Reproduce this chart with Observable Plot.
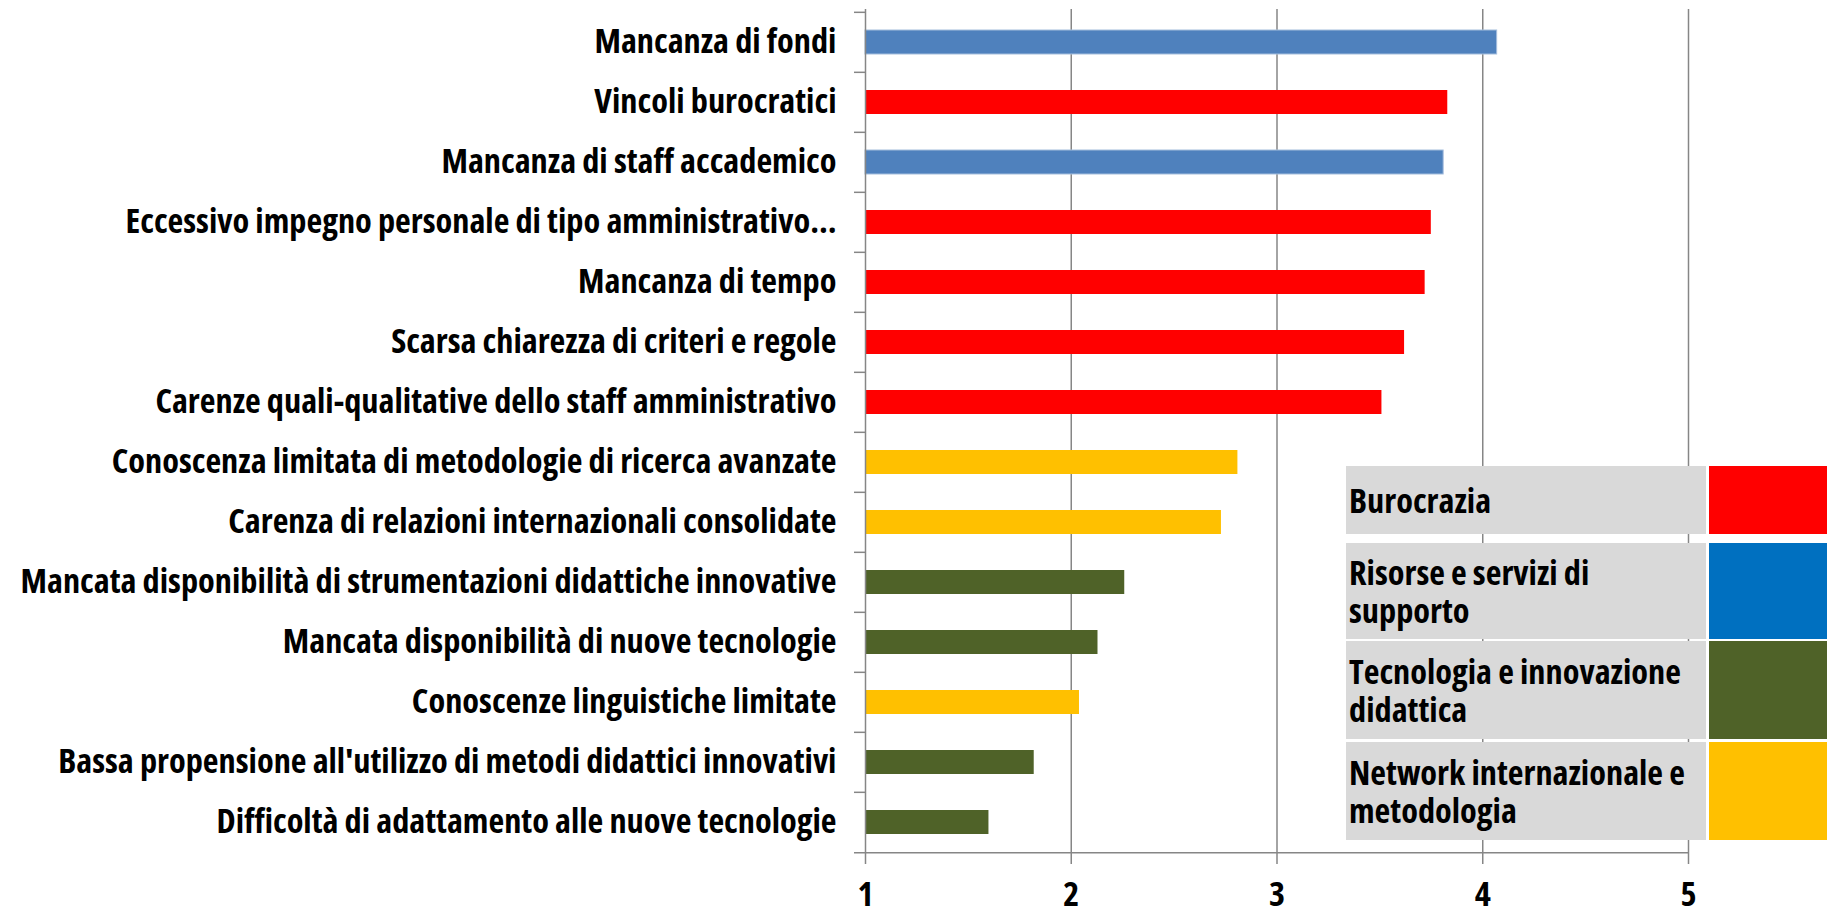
<!DOCTYPE html>
<html><head><meta charset="utf-8">
<script src="https://cdn.jsdelivr.net/npm/d3@7"></script>
<script src="https://cdn.jsdelivr.net/npm/@observablehq/plot@0.6"></script>
<style>
body{margin:0;background:#fff;}
#wrap{position:relative;width:1830px;height:907px;overflow:hidden;font-family:"Open Sans",Roboto,sans-serif;font-weight:bold;font-stretch:75%;}
.lg{position:absolute;display:flex;}
.lg .t{background:#D9D9D9;display:flex;align-items:center;box-sizing:border-box;padding-left:3px;color:#000;white-space:nowrap;}
.lg .s{position:absolute;}
</style></head><body><div id="wrap"></div>
<script>
const labels = [
  "Mancanza di fondi",
  "Vincoli burocratici",
  "Mancanza di staff accademico",
  "Eccessivo impegno personale di tipo amministrativo…",
  "Mancanza di tempo",
  "Scarsa chiarezza di criteri e regole",
  "Carenze quali-qualitative dello staff amministrativo",
  "Conoscenza limitata di metodologie di ricerca avanzate",
  "Carenza di relazioni internazionali consolidate",
  "Mancata disponibilità di strumentazioni didattiche innovative",
  "Mancata disponibilità di nuove tecnologie",
  "Conoscenze linguistiche limitate",
  "Bassa propensione all'utilizzo di metodi didattici innovativi",
  "Difficoltà di adattamento alle nuove tecnologie"
];
const values = [4.07, 3.83, 3.81, 3.75, 3.72, 3.62, 3.51, 2.81, 2.73, 2.26, 2.13, 2.04, 1.82, 1.60];
// group index: 0 Burocrazia, 1 Risorse, 2 Tecnologia, 3 Network
const groups = [1, 0, 1, 0, 0, 0, 0, 3, 3, 2, 2, 3, 2, 2];
const groupNames = ["Burocrazia", "Risorse e servizi di\nsupporto", "Tecnologia e innovazione\ndidattica", "Network internazionale e\nmetodologia"];
const barColors = ["#FF0000", "#4F81BD", "#4F6228", "#FFC000"];
const legendColors = ["#FF0000", "#0070C0", "#4F6228", "#FFC000"];
const xTicks = [1, 2, 3, 4, 5];
const gridTicks = [2, 3, 4, 5];

const data = labels.map((l, i) => ({label: l, value: values[i], g: groups[i]}));

const fs = 34.3;
const W = 1830, H = 907, mT = 9, mB = 53, mL = 865, mR = 142;
const step = (H - mT - mB) / labels.length;
const font = "'Open Sans', Roboto, sans-serif";
const gray = "#868686";

const chart = Plot.plot({
  width: W, height: H,
  marginTop: mT, marginBottom: mB, marginLeft: mL, marginRight: mR,
  style: {fontFamily: font, fontSize: fs + "px", fontWeight: "bold", fontStretch: "75%", color: "#000", background: "transparent", overflow: "visible"},
  x: {domain: [1, 5], label: null},
  y: {domain: labels, paddingInner: 0.6, paddingOuter: 0.3, label: null},
  color: {type: "identity"},
  marks: [
    Plot.ruleX(gridTicks, {stroke: gray, strokeWidth: 1.5}),
    Plot.barX(data, {y: "label", x1: 1, x2: "value", fill: d => barColors[d.g],
      stroke: d => d.g === 1 ? "#A4BDDC" : "none", strokeWidth: 1}),
    Plot.ruleX([1], {stroke: gray, strokeWidth: 1.5}),
    Plot.ruleY(labels, {dy: -step / 2, x1: 1, x2: 1, insetLeft: -11, stroke: gray, strokeWidth: 1.5}),
    Plot.ruleY([labels[labels.length - 1]], {dy: step / 2, x1: 1, x2: 5, insetLeft: -11, stroke: gray, strokeWidth: 1.5}),
    Plot.axisX(xTicks, {tickSize: 10, tickPadding: 17, stroke: gray, strokeWidth: 1.5, fill: "#000",
      tickFormat: d => String(d), fontSize: fs, fontWeight: "bold", fontFamily: font}),
    Plot.axisY({tickSize: 0, tickPadding: 29, fill: "#000", fontSize: fs, fontWeight: "bold", fontFamily: font})
  ]
});
const wrap = document.getElementById("wrap");
wrap.appendChild(chart);

// legend (overlaid on the plot, as in the reference)
const rowTops = [466, 543, 641, 742];
const rowHeights = [68, 96, 98, 98];
groupNames.forEach((name, i) => {
  const row = document.createElement("div");
  row.className = "lg";
  row.style.left = "1346px";
  row.style.top = rowTops[i] + "px";
  row.style.height = rowHeights[i] + "px";
  const t = document.createElement("div");
  t.className = "t";
  t.style.width = "360px";
  t.style.height = rowHeights[i] + "px";
  t.style.fontSize = fs + "px";
  t.style.lineHeight = (fs * 1.1) + "px";
  t.innerHTML = name.split("\n").join("<br>");
  const s = document.createElement("div");
  s.className = "s";
  s.style.left = "363px";
  s.style.top = "0px";
  s.style.width = "118px";
  s.style.height = rowHeights[i] + "px";
  s.style.background = legendColors[i];
  row.appendChild(t);
  row.appendChild(s);
  wrap.appendChild(row);
});
</script>
</body></html>
